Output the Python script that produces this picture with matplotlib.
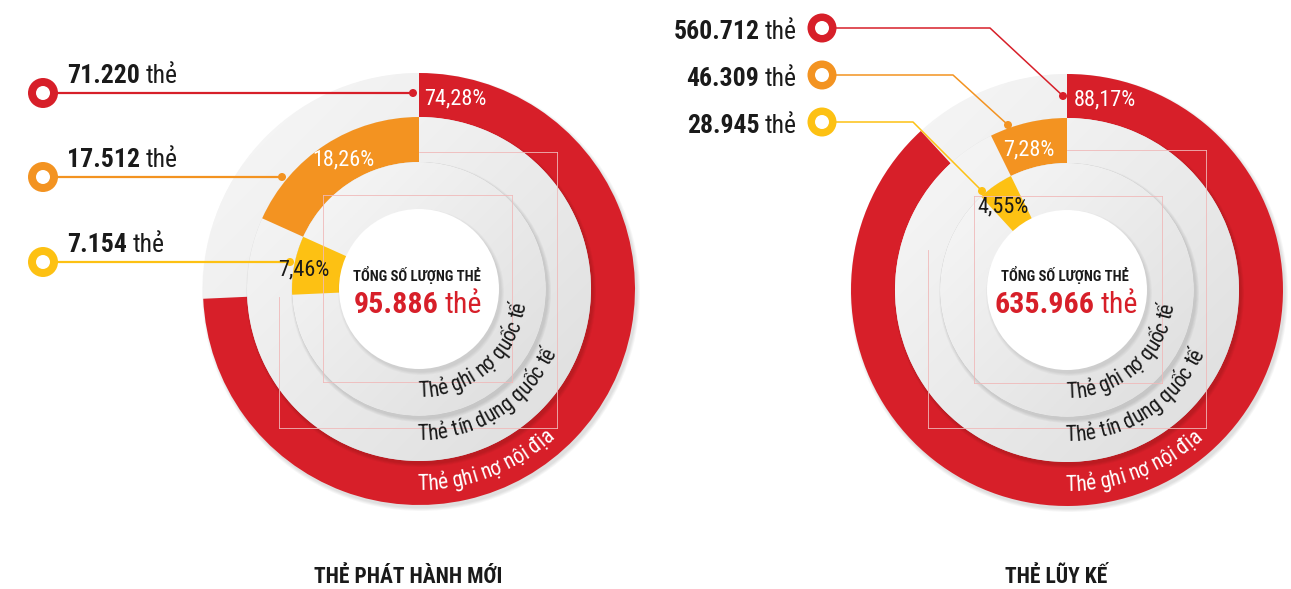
import matplotlib
matplotlib.use("Agg")
import matplotlib.pyplot as plt
from matplotlib.patches import Wedge, Circle
from matplotlib.colors import LinearSegmentedColormap
from matplotlib import font_manager
from matplotlib.ft2font import FT2Font
import numpy as np

W, H = 1291, 589

# data read from the infographic
chart_titles = ["THẺ PHÁT HÀNH MỚI", "THẺ LŨY KẾ"]
totals = ["95.886", "635.966"]
card_types = ["Thẻ ghi nợ nội địa", "Thẻ tín dụng quốc tế", "Thẻ ghi nợ quốc tế"]
counts_new = ["71.220", "17.512", "7.154"]
counts_cum = ["560.712", "46.309", "28.945"]
pct_new = [74.28, 18.26, 7.46]
pct_cum = [88.17, 7.28, 4.55]
unit = "thẻ"
hub_title = "TỔNG SỐ LƯỢNG THẺ"

RED = "#d71f29"
ORANGE = "#f39321"
YELLOW = "#fdc113"
DARK = "#1a1a1a"
colors = [RED, ORANGE, YELLOW]


def pick_font(names):
    avail = {f.name for f in font_manager.fontManager.ttflist}
    for n in names:
        if n in avail:
            return n
    return "DejaVu Sans"


FONT = pick_font(["Liberation Sans Narrow", "Roboto Condensed", "Open Sans Condensed", "Liberation Sans"])
plt.rcParams["font.family"] = [FONT, "DejaVu Sans"]

fig = plt.figure(figsize=(W / 100, H / 100), dpi=100)
ax = fig.add_axes([0, 0, 1, 1])
renderer = fig.canvas.get_renderer()

track_cmap = LinearSegmentedColormap.from_list("trk", ["#f8f8f8", "#dddddd"])
# ring geometry: (outer radius, width) for domestic debit, credit, intl debit
rings = [(216, 44), (172, 45), (127, 45)]
HUB_R = 80


def Y(y):
    return H - y


def shadow(cx, cy, r, z, alpha=0.03):
    for k in range(4):
        ax.add_patch(Circle((cx + 2, cy - 3), r + 0.3 + k * 0.9, fc="k", ec="none", alpha=alpha, zorder=z))


def track(cx, cy, r, w, z):
    wd = Wedge((cx, cy), r, 0, 360, width=w, fc="none", ec="none", zorder=z)
    ax.add_patch(wd)
    xx, yy = np.meshgrid(np.linspace(0, 1, 100), np.linspace(0, 1, 100))
    g = (xx + (1 - yy)) / 2
    im = ax.imshow(g, cmap=track_cmap, vmin=0, vmax=1, origin="lower",
                   extent=(cx - r, cx + r, cy - r, cy + r), zorder=z, interpolation="bilinear")
    im.set_clip_path(wd)


def mixed(x, y, bold, regular, size, color, ha="left", va="baseline"):
    t1 = ax.text(x, y, bold, fontsize=size, fontweight="bold", color=color, va=va, zorder=20)
    t2 = ax.text(x, y, regular, fontsize=size, color=color, va=va, zorder=20)
    w1 = t1.get_window_extent(renderer).width
    w2 = t2.get_window_extent(renderer).width
    gap = size * 100 / 72 * 0.22
    tot = w1 + gap + w2
    x0 = x if ha == "left" else (x - tot if ha == "right" else x - tot / 2)
    t1.set_x(x0)
    t2.set_x(x0 + w1 + gap)


def arc_text(cx, cy, r, start_deg, text, size, color):
    fp = font_manager.FontProperties(family=FONT, size=size)
    font = FT2Font(font_manager.findfont(fp))
    font.set_size(size * 100 / 72, 72)
    s = 0.0
    for ch in text:
        a = font.load_char(ord(ch)).linearHoriAdvance / 65536
        th = np.radians(start_deg) + (s + a / 2) / r
        ax.text(cx + r * np.cos(th), cy + r * np.sin(th), ch, fontproperties=fp, color=color,
                rotation=np.degrees(th) + 90, rotation_mode="anchor", ha="center", va="baseline", zorder=15)
        s += a


def marker(x, y, c, r_out=15, r_in=7):
    ax.add_patch(Circle((x, y), r_out, fc=c, ec="none", zorder=21))
    ax.add_patch(Circle((x, y), r_in, fc="white", ec="none", zorder=22))


def fmt_pct(p):
    return f"{p:.2f}".replace(".", ",") + "%"


def draw_chart(cx, cy_img, pcts, total, title, pct_pos, guides):
    cy = Y(cy_img)
    spans = np.array(pcts) / np.sum(pcts) * 360
    # segments laid out counter-clockwise from 12 o'clock: credit, intl debit, domestic debit
    start = 90.0
    arcs = {}
    for i in [1, 2, 0]:
        arcs[i] = (start, start + spans[i])
        start += spans[i]

    for i, (r, w) in enumerate(rings):
        z = 2 + 3 * i
        if i == 2:
            w = r - HUB_R + 1  # innermost track runs into the hub, no gap
        shadow(cx, cy, r, z)
        track(cx, cy, r, w, z + 1)
        a0, a1 = arcs[i]
        ax.add_patch(Wedge((cx, cy), r, a0, a1, width=w, fc=colors[i], ec="none", zorder=z + 2))

    # faint guide lines from the layout
    for (x0, y0, x1, y1) in guides:
        ax.plot([x0, x1], [Y(y0), Y(y1)], color="#f0b9b9", lw=0.6, zorder=11)

    shadow(cx, cy, HUB_R, 12, alpha=0.025)
    ax.add_patch(Circle((cx, cy), HUB_R, fc="white", ec="none", zorder=13))

    ax.text(cx - 2, Y(275), hub_title, fontsize=10.5, fontweight="bold", color=DARK,
            ha="center", va="center", zorder=20)
    mixed(cx - 1, Y(313), total, unit, 21.5, RED, ha="center")

    for i, (px, py) in enumerate(pct_pos):
        ax.text(px, Y(py), fmt_pct(pcts[i]), fontsize=16, color=DARK if i == 2 else "white",
                ha="center", va="center", zorder=20)

    # curved ring labels
    radii = [201, 151, 108]
    for i, name in enumerate(card_types):
        arc_text(cx, cy, radii[i], -90.5, name, 15.5, "white" if i == 0 else DARK)

    ax.text(cx - 11, Y(577), title, fontsize=15.5, fontweight="bold", color=DARK,
            ha="center", va="center", zorder=20)


# left chart: new issued cards
lc = (419, 289)
draw_chart(lc[0], lc[1], pct_new, totals[0], chart_titles[0],
           [(455, 99), (343, 160), (304, 270)],
           [(323, 195, 512, 195), (323, 195, 323, 382), (512, 195, 512, 382), (323, 382, 512, 382),
            (419, 152, 557, 152), (557, 152, 557, 428), (279, 428, 557, 428), (279, 297, 279, 428)])
# right chart: cumulative cards
rc = (1067, 290)
draw_chart(rc[0], rc[1], pct_cum, totals[1], chart_titles[1],
           [(1105, 100), (1029, 150), (1003, 207)],
           [(974, 196, 1162, 196), (974, 196, 974, 383), (1162, 196, 1162, 383), (974, 383, 1162, 383),
            (1067, 150, 1206, 150), (1206, 150, 1206, 428), (928, 428, 1206, 428), (928, 250, 928, 428)])

# left legend: counts with leader lines to the rings
left_rows = [93, 177, 262]
left_dots = [(413, 93), (282, 177), (290, 262)]
for i in range(3):
    y = left_rows[i]
    dx, dy = left_dots[i]
    ax.plot([43, dx], [Y(y), Y(dy)], color=colors[i], lw=1.6, zorder=19)
    ax.add_patch(Circle((dx, Y(dy)), 4, fc=colors[i], ec="none", zorder=19))
    marker(43, Y(y), colors[i])
    mixed(67, Y(y - 10), counts_new[i], unit, 18.5, DARK)

# right legend: counts with bent leader lines
right_rows = [28, 75, 122]
right_bends = [990, 953, 913]
right_dots = [(1063, 96), (1008, 125), (982, 191)]
for i in range(3):
    y = right_rows[i]
    dx, dy = right_dots[i]
    ax.plot([822, right_bends[i], dx], [Y(y), Y(y), Y(dy)], color=colors[i], lw=1.1, zorder=19)
    ax.add_patch(Circle((dx, Y(dy)), 4, fc=colors[i], ec="none", zorder=19))
    marker(822, Y(y), colors[i], 14.5, 7)
    mixed(797, Y(y + 11), counts_cum[i], unit, 18.5, DARK, ha="right")

ax.set_xlim(0, W)
ax.set_ylim(0, H)
ax.set_aspect("auto")
ax.axis("off")
fig.savefig("out.png", dpi=100, facecolor="white")
